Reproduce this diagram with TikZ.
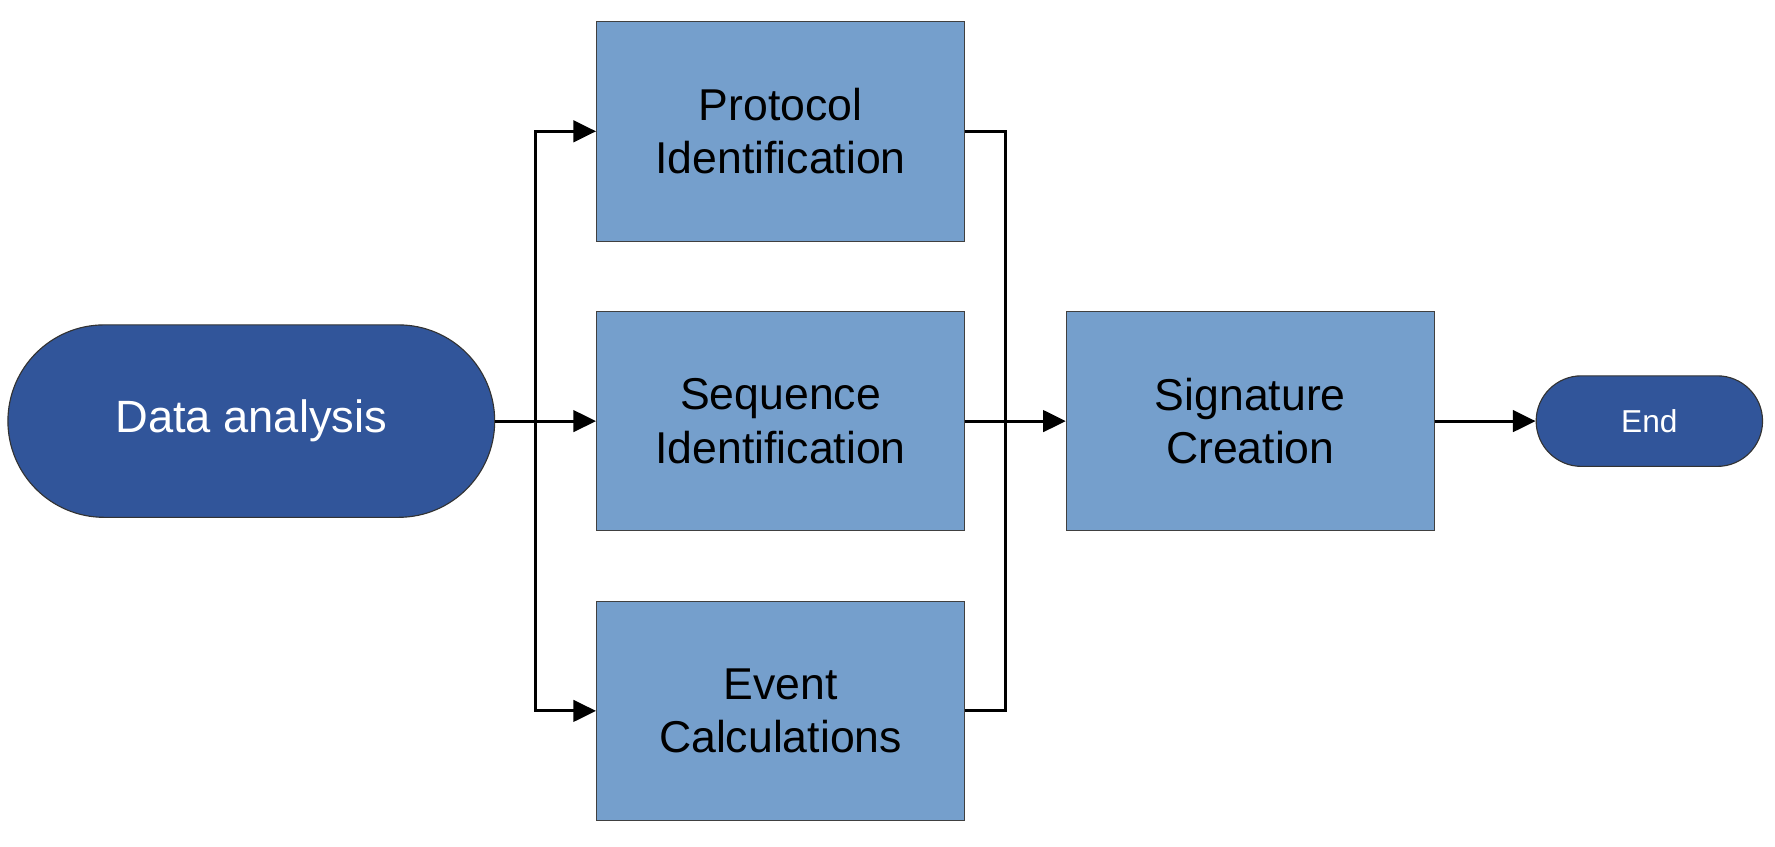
\documentclass[tikz,border=0pt]{standalone}
\usepackage{fontspec}
\setmainfont{Liberation Sans}
\usetikzlibrary{arrows.meta}
\definecolor{darkfill}{HTML}{31559A}
\definecolor{boxfill}{HTML}{759FCC}
\begin{document}
\begin{tikzpicture}[x=0.5pt,y=-0.5pt,
  procbox/.style={draw=black!75, line width=0.5pt, fill=boxfill, rectangle,
    minimum width=162.5pt, minimum height=97pt, inner sep=0pt, align=center,
    font=\fontsize{19.7}{23.5}\selectfont},
  terminal/.style={draw=black!80, line width=0.5pt, fill=darkfill, rectangle,
    inner sep=0pt, text=white, align=center},
  conn/.style={line width=1.25pt, draw=black},
  arr/.style={conn, -{Triangle[length=10pt,width=9.5pt]}}]
\useasboundingbox (0,0) rectangle (1568,748);
\node[terminal, minimum width=215pt, minimum height=85pt, rounded corners=42.5pt,
  font=\fontsize{20}{24}\selectfont] (data) at (222,372) {Data analysis};
\node[procbox] (proto) at (689.5,116) {Protocol\\Identification};
\node[procbox] (seq) at (689.5,372) {Sequence\\Identification};
\node[procbox] (event) at (689.5,628) {Event\\Calculations};
\node[procbox] (sig) at (1104.5,372) {Signature\\Creation};
\node[terminal, minimum width=100pt, minimum height=40pt, rounded corners=20pt,
  font=\fontsize{14}{16}\selectfont] (end) at (1457,372) {End};
\coordinate (split) at (473,372);
\coordinate (merge) at (888,372);
\draw[arr] (data.east) -- (seq.west);
\draw[arr] (split) |- (proto.west);
\draw[arr] (split) |- (event.west);
\draw[conn] (proto.east) -| (merge);
\draw[conn] (event.east) -| (merge);
\draw[arr] (seq.east) -- (sig.west);
\draw[arr] (sig.east) -- (end.west);
\end{tikzpicture}
\end{document}
